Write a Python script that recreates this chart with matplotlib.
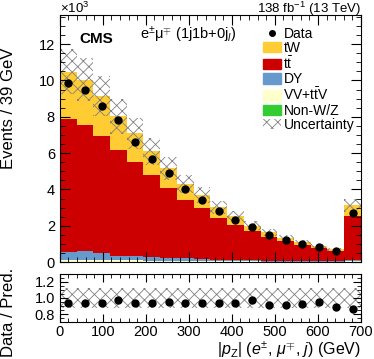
import numpy as np
import matplotlib
matplotlib.use("Agg")
import matplotlib.pyplot as plt
from matplotlib.ticker import MultipleLocator
from matplotlib.patches import Patch
from matplotlib.lines import Line2D

plt.rcParams['font.family'] = ['Liberation Sans', 'DejaVu Sans']
plt.rcParams['mathtext.fontset'] = 'custom'
plt.rcParams['mathtext.rm'] = 'Liberation Sans'
plt.rcParams['mathtext.it'] = 'Liberation Sans:italic'
plt.rcParams['hatch.linewidth'] = 0.6

# 18 bins of |pz| from 0 to 700 GeV, values in events
edges = np.linspace(0, 700, 19)
data = [9860, 9450, 8610, 7840, 6610, 5690, 4900, 4040, 3440,
        2830, 2340, 1940, 1510, 1240, 1020, 850, 630, 2680]
tw = [2610, 2490, 2240, 1850, 1580, 1320, 1060, 860, 700,
      580, 450, 310, 250, 210, 140, 120, 110, 560]
ttbar = [7340, 6960, 6420, 5830, 5180, 4490, 3870, 3240, 2810,
         2290, 1940, 1590, 1320, 1070, 900, 730, 560, 2460]
dy = [410, 470, 380, 250, 230, 210, 160, 140, 110,
      90, 70, 60, 50, 50, 40, 30, 20, 50]
vv_ttv = [110, 110, 100, 90, 80, 70, 60, 50, 50,
          40, 40, 30, 30, 20, 20, 20, 20, 50]
non_wz = [20, 20, 20, 20, 10, 10, 10, 10, 10,
          10, 10, 10, 0, 0, 0, 0, 0, 0]
rel_unc = [0.12, 0.12, 0.12, 0.12, 0.12, 0.12, 0.12, 0.12, 0.12,
           0.12, 0.12, 0.12, 0.12, 0.12, 0.12, 0.12, 0.12, 0.12]

fig = plt.figure(figsize=(3.74, 3.59), dpi=100)
ax = fig.add_axes([0.160, 0.270, 0.805, 0.688])
rax = fig.add_axes([0.160, 0.103, 0.805, 0.134])

# stack from bottom to top
stack = [(non_wz, '#33cc33'),
         (vv_ttv, '#ffffcc'),
         (dy, '#6699cc'),
         (ttbar, '#cc0000'),
         (tw, '#ffcc33')]
base = np.zeros(len(data))
for vals, col in stack:
    v = np.array(vals) / 1e3
    ax.stairs(base + v, edges, baseline=base, fill=True, color=col, lw=0)
    base = base + v
total = base

unc = total * np.array(rel_unc)
ax.stairs(total + unc, edges, baseline=total - unc, fill=True,
          facecolor='none', edgecolor='#808080', hatch='xxx', lw=0)

centers = 0.5 * (edges[1:] + edges[:-1])
d = np.array(data) / 1e3
ax.plot(centers, d, 'o', color='black', ms=5)

ax.set_xlim(0, 700)
ax.set_ylim(0, 13.6)
ax.xaxis.set_major_locator(MultipleLocator(100))
ax.xaxis.set_minor_locator(MultipleLocator(20))
ax.yaxis.set_major_locator(MultipleLocator(2))
ax.yaxis.set_minor_locator(MultipleLocator(0.5))
ax.tick_params(which='both', direction='in', top=True, right=True, labelsize=10.5)
ax.tick_params(which='major', length=7)
ax.tick_params(which='minor', length=3.5)
ax.tick_params(axis='x', labelbottom=False)

ax.text(0.066, 0.905, 'CMS', transform=ax.transAxes, fontsize=11,
        fontweight='bold', va='center')
ax.text(0.265, 0.92, r'e$^{\pm}$μ$^{\mp}$ (1j1b+0j$_{l}$)', transform=ax.transAxes,
        fontsize=10.5, va='center')
fig.text(0.965, 1 - 9 / 359, r'138 fb$^{-1}$ (13 TeV)', ha='right', va='center', fontsize=9.5)
fig.text(0.160, 1 - 8 / 359, r'$\times$10$^{3}$', ha='left', va='center', fontsize=9.5)

handles = [Line2D([], [], marker='o', ls='none', color='black', ms=4),
           Patch(color='#ffcc33'), Patch(color='#cc0000'), Patch(color='#6699cc'),
           Patch(color='#ffffcc'), Patch(color='#33cc33'),
           Patch(facecolor='none', edgecolor='#808080', hatch='xxx', lw=0)]
labels = ['Data', 'tW', r't$\bar{\rm t}$', 'DY', r'VV+t$\bar{\rm t}$V', 'Non-W/Z', 'Uncertainty']
ax.legend(handles, labels, loc='upper left', bbox_to_anchor=(0.655, 0.975), frameon=False,
          fontsize=10, handlelength=1.3, handleheight=0.75, handletextpad=0.2,
          labelspacing=0.02, borderaxespad=0)

fig.text(0.023, 1 - 48 / 359, 'Events / 39 GeV', rotation=90, ha='center', va='top', fontsize=12)

# ratio panel
ratio = d / total
rax.stairs(1 + np.array(rel_unc), edges, baseline=1 - np.array(rel_unc), fill=True,
           facecolor='none', edgecolor='#808080', hatch='xxx', lw=0)
rax.plot(centers, ratio, 'o', color='black', ms=5)
rax.set_xlim(0, 700)
rax.set_ylim(0.7, 1.3)
rax.xaxis.set_major_locator(MultipleLocator(100))
rax.xaxis.set_minor_locator(MultipleLocator(20))
rax.yaxis.set_major_locator(MultipleLocator(0.2))
rax.yaxis.set_minor_locator(MultipleLocator(0.05))
rax.yaxis.set_major_formatter(matplotlib.ticker.FormatStrFormatter('%.1f'))
rax.tick_params(which='both', direction='in', top=True, right=True, labelsize=10.5)
rax.tick_params(which='major', length=6)
rax.tick_params(which='minor', length=3)
rax.tick_params(axis='x', pad=2)
fig.text(0.023, 1 - 312 / 359, 'Data / Pred.', rotation=90, ha='center', va='center', fontsize=12)
fig.text(0.965, 1 - 350 / 359, r'|$p_{\rm Z}$| ($e^{\pm}$, $\mu^{\mp}$, $j$) (GeV)',
         ha='right', va='center', fontsize=11.5)

fig.savefig('out.png', dpi=100)
